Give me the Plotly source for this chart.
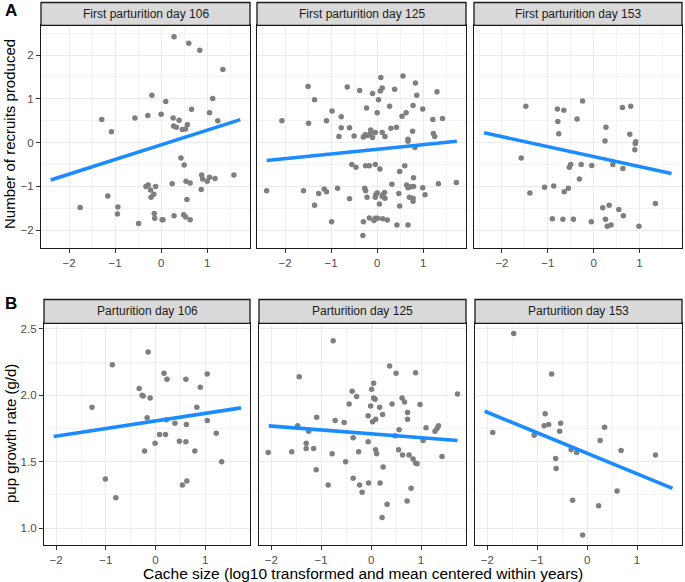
import plotly.graph_objects as go

W, H = 685, 582

# ---------------- data ----------------
strip_labels = ["First parturition day 106", "First parturition day 125", "First parturition day 153",
                "Parturition day 106", "Parturition day 125", "Parturition day 153"]

a1_x = [0.28, 0.60, 0.84, 1.34, -0.20, 0.10, 1.12, 0.66, 1.05, -1.29, -0.57, -0.29, 0.00, 0.26, 0.39, 1.23,
        0.27, 0.33, 0.46, 0.53, 0.57, -1.08, 0.43, 0.50, 0.88, 0.90, 1.00, 1.05, 1.17, 1.58, 0.54, 0.63, 0.24,
        -0.33, -0.28, -0.12, -0.23, -0.16, -0.22, 0.87, 0.56, -1.16, -1.76, -0.94, -0.95, -0.15, -0.14, 0.02,
        0.04, 0.28, 0.49, 0.53, 0.63, -0.49]
a1_y = [2.42, 2.27, 2.11, 1.67, 1.08, 0.94, 1.01, 0.76, 0.68, 0.53, 0.56, 0.62, 0.65, 0.56, 0.51, 0.50,
        0.38, 0.35, 0.30, 0.31, 0.41, 0.25, -0.35, -0.51, -0.74, -0.83, -0.88, -0.79, -0.82, -0.74, -0.88, -0.92,
        -0.94, -1.00, -0.97, -1.00, -1.08, -1.18, -1.25, -1.07, -1.30, -1.22, -1.48, -1.47, -1.63, -1.62, -1.73,
        -1.76, -1.76, -1.67, -1.65, -1.70, -1.76, -1.85]

a2_x = [0.56, 0.08, 0.83, -1.50, -0.65, -0.38, -0.10, 0.07, 0.11, 0.38, 1.30, 0.86, -1.36, 0.03, 0.78, 0.27,
        -0.23, 0.99, -0.98, 0.00, 0.63, 0.54, -0.78, -2.07, -1.49, -1.10, 1.21, 1.42, -0.78, -0.60, -0.83, -0.50,
        -0.30, -0.26, -0.21, -0.14, -0.15, -0.10, -0.04, 0.11, 0.17, 0.30, 0.42, 0.77, 1.22, 1.25, 0.67, 0.67,
        0.82, -0.55, -0.46, -0.25, -0.17, -0.04, 0.06, 0.60, 0.49, 0.79, 0.32, 0.64, 0.67, 0.79, 0.72, 0.99,
        1.33, 1.72, 1.04, -2.40, -1.60, -1.27, -1.15, -1.10, -0.86, -0.27, -0.25, -0.60, -0.22, -0.03, 0.00,
        -0.04, 0.12, 0.16, 0.17, 0.11, 0.47, 0.70, 0.78, 0.78, 0.05, 0.49, -1.36, -0.99, -0.30, -0.17, -0.07,
        -0.04, 0.01, 0.12, 0.22, 0.43, 0.67, -0.31]
a2_y = [1.52, 1.49, 1.36, 1.28, 1.27, 1.19, 1.12, 1.18, 1.25, 1.22, 1.16, 1.08, 0.98, 0.98, 0.85, 0.83,
        0.79, 0.77, 0.72, 0.68, 0.68, 0.60, 0.59, 0.50, 0.44, 0.50, 0.53, 0.55, 0.34, 0.34, 0.14, 0.15,
        0.13, 0.18, 0.16, 0.29, 0.20, 0.12, 0.23, 0.23, 0.14, 0.33, 0.35, 0.26, 0.21, 0.14, 0.08, 0.03,
        -0.11, -0.50, -0.56, -0.53, -0.53, -0.50, -0.60, -0.53, -0.66, -0.80, -0.95, -0.97, -1.03, -1.00, -1.01, -1.03,
        -0.94, -0.91, -1.19, -1.10, -1.10, -1.16, -1.06, -1.12, -1.04, -1.04, -1.10, -1.28, -1.25, -1.19, -1.15,
        -1.25, -1.19, -1.14, -1.27, -1.23, -1.16, -1.25, -1.27, -1.34, -1.40, -1.45, -1.43, -1.81, -1.81, -1.72, -1.78,
        -1.73, -1.73, -1.74, -1.77, -1.88, -1.88, -2.12]

a3_x = [-1.48, -0.79, -0.65, -0.24, 0.63, 0.81, -0.78, -0.36, 0.27, -0.76, 0.79, 0.25, 0.92, 0.91, 0.90,
        -1.58, -0.50, -0.53, -0.27, -0.04, 0.42, 0.64, -0.31, -1.39, -1.07, -0.87, -0.64, -0.55, 1.35, 0.20,
        0.34, 0.55, 0.65, -0.90, -0.67, -0.44, -0.05, 0.26, 0.30, 0.38, 0.99]
a3_y = [0.83, 0.77, 0.74, 0.95, 0.80, 0.83, 0.48, 0.54, 0.35, 0.20, 0.19, 0.04, 0.02, -0.02, -0.16,
        -0.35, -0.50, -0.56, -0.50, -0.52, -0.50, -0.59, -0.83, -1.15, -1.02, -0.99, -1.12, -1.04, -1.39, -1.49,
        -1.43, -1.53, -1.67, -1.74, -1.75, -1.75, -1.81, -1.75, -1.91, -1.88, -1.91]

b1_x = [-0.15, -0.87, 0.17, 0.23, 0.61, 1.04, -0.33, 0.90, -0.27, -0.25, -0.11, -1.28, 0.83, -0.17, 0.22,
        1.04, 0.39, 0.62, 0.08, 0.20, 1.22, -0.01, 0.48, 0.61, -0.22, 0.79, 1.33, -1.01, 0.63, 0.54, -0.80]
b1_y = [2.325, 2.23, 2.165, 2.12, 2.12, 2.16, 2.05, 2.06, 2.00, 1.995, 1.98, 1.91, 1.91, 1.83, 1.815,
        1.81, 1.79, 1.78, 1.705, 1.705, 1.715, 1.64, 1.655, 1.65, 1.58, 1.58, 1.50, 1.37, 1.355, 1.325, 1.23]

b2_x = [-0.76, -1.44, 0.37, 0.50, 0.89, 0.05, 0.01, -0.38, -0.29, 0.05, 0.08, 0.62, 0.67, -0.44, -0.01,
        0.17, 0.42, 0.98, 0.73, 0.23, -0.06, -1.09, -0.72, -0.54, 0.03, 0.09, 0.73, -1.47, 1.10, 1.35, 1.32,
        1.28, -1.25, 0.56, 0.48, -0.36, 1.04, -0.06, -1.30, -1.30, -1.15, 0.09, 0.11, 0.55, 0.63, 0.76, 0.84,
        0.89, 0.92, 1.42, -2.06, -1.59, -0.78, -0.25, -0.51, -1.10, 0.24, -0.36, -0.86, -0.23, -0.05, 0.18,
        -0.18, 0.80, 0.72, 0.32, 0.22, 1.73]
b2_y = [2.41, 2.14, 2.22, 2.165, 2.17, 2.09, 2.045, 2.03, 1.99, 1.98, 1.97, 1.98, 1.95, 1.935, 1.92,
        1.91, 1.935, 1.93, 1.87, 1.855, 1.845, 1.835, 1.81, 1.795, 1.80, 1.82, 1.82, 1.77, 1.755, 1.77, 1.75,
        1.73, 1.73, 1.74, 1.695, 1.68, 1.66, 1.65, 1.64, 1.60, 1.60, 1.59, 1.56, 1.59, 1.55, 1.55, 1.52,
        1.49, 1.485, 1.54, 1.57, 1.575, 1.56, 1.575, 1.50, 1.44, 1.46, 1.375, 1.325, 1.325, 1.34, 1.34,
        1.27, 1.30, 1.205, 1.18, 1.08, 2.01]

b3_x = [-1.47, -0.71, -0.84, -0.86, -0.77, -0.53, -0.55, -1.89, -1.06, 0.35, 0.26, -0.32, -0.21, 0.68,
        1.37, -0.63, -0.62, 0.60, -0.29, 0.23, -0.09]
b3_y = [2.465, 2.16, 1.86, 1.77, 1.78, 1.79, 1.73, 1.72, 1.70, 1.76, 1.66, 1.59, 1.57, 1.585,
        1.55, 1.525, 1.45, 1.28, 1.21, 1.17, 0.95]

# model prediction lines (start / end)
a1_line_x, a1_line_y = [-2.40, 1.72], [-0.855, 0.525]
a2_line_x, a2_line_y = [-2.40, 1.73], [-0.41, 0.03]
a3_line_x, a3_line_y = [-2.39, 1.70], [0.225, -0.705]
b1_line_x, b1_line_y = [-2.05, 1.72], [1.69, 1.905]
b2_line_x, b2_line_y = [-2.05, 1.73], [1.77, 1.66]
b3_line_x, b3_line_y = [-2.05, 1.71], [1.88, 1.30]

x_ticks = [-2, -1, 0, 1]
ya_ticks = [-2, -1, 0, 1, 2]
yb_ticks = [1.0, 1.5, 2.0, 2.5]

points = [(a1_x, a1_y), (a2_x, a2_y), (a3_x, a3_y), (b1_x, b1_y), (b2_x, b2_y), (b3_x, b3_y)]
lines = [(a1_line_x, a1_line_y), (a2_line_x, a2_line_y), (a3_line_x, a3_line_y),
         (b1_line_x, b1_line_y), (b2_line_x, b2_line_y), (b3_line_x, b3_line_y)]

# ---------------- layout geometry (pixels) ----------------
px_x = [(41, 250), (257, 466), (474, 682), (44, 250), (259, 466), (475, 682)]
row_panel_y = [(25.3, 247.7), (323.3, 545)]
row_strip_y = [(2.5, 25.3), (299.5, 323.3)]

def fx(p):
    return p / W

def fy(p):
    return 1 - p / H

FONT = "Liberation Sans, Arial, sans-serif"
GRID = "#EBEBEB"
fig = go.Figure()

for i in range(6):
    n = i + 1
    sx = "" if n == 1 else str(n)
    xs, ys = points[i]
    lx, ly = lines[i]
    fig.add_trace(go.Scatter(x=xs, y=ys, mode="markers", xaxis="x" + sx, yaxis="y" + sx,
                             marker=dict(color="#7F7F7F", size=5.5), showlegend=False, hoverinfo="skip"))
    fig.add_trace(go.Scatter(x=lx, y=ly, mode="lines", xaxis="x" + sx, yaxis="y" + sx,
                             line=dict(color="#1A8CFF", width=3.6), showlegend=False, hoverinfo="skip"))

layout = dict(width=W, height=H, margin=dict(l=0, r=0, t=0, b=0),
              paper_bgcolor="white", plot_bgcolor="white", font=dict(family=FONT),
              shapes=[], annotations=[])

for i in range(6):
    n = i + 1
    sx = "" if n == 1 else str(n)
    row = 0 if i < 3 else 1
    x0, x1 = px_x[i]
    py0, py1 = row_panel_y[row]
    if row == 0:
        xr = [-2.61, 1.93]
        yr = [-2.40, 2.68]
        yt = ya_ticks
        ymin = 0.5
        yfmt = "d"
    else:
        xr = [-2.245, 1.9]
        yr = [0.874, 2.541]
        yt = yb_ticks
        ymin = 0.25
        yfmt = ".1f"
    first = (i % 3 == 0)
    layout["xaxis" + sx] = dict(
        domain=[fx(x0), fx(x1)], anchor="y" + sx, range=xr, tickvals=x_ticks,
        showgrid=True, gridcolor=GRID, gridwidth=1, zeroline=False,
        showline=True, linecolor="#1A1A1A", linewidth=1.3, mirror=True,
        ticks="outside", ticklen=4, tickcolor="#333333", tickwidth=1,
        tickfont=dict(size=11.5, color="#4D4D4D", family=FONT),
        minor=dict(dtick=0.5, tick0=0, showgrid=True, gridcolor="#F3F3F3", gridwidth=0.6, ticks=""),
        fixedrange=True)
    layout["yaxis" + sx] = dict(
        domain=[fy(py1), fy(py0)], anchor="x" + sx, range=yr, tickvals=yt, tickformat=yfmt,
        showgrid=True, gridcolor=GRID, gridwidth=1, zeroline=False,
        showline=True, linecolor="#1A1A1A", linewidth=1.3, mirror=True,
        ticks="outside" if first else "", ticklen=4, tickcolor="#333333", tickwidth=1,
        showticklabels=first,
        tickfont=dict(size=11.5, color="#4D4D4D", family=FONT),
        minor=dict(dtick=ymin, tick0=0, showgrid=True, gridcolor="#F3F3F3", gridwidth=0.6, ticks=""),
        fixedrange=True)
    sy0, sy1 = row_strip_y[row]
    layout["shapes"].append(dict(type="rect", xref="paper", yref="paper",
                                 x0=fx(x0), x1=fx(x1), y0=fy(sy1), y1=fy(sy0),
                                 fillcolor="#D9D9D9", line=dict(color="#1A1A1A", width=1.3), layer="above"))
    layout["annotations"].append(dict(text=strip_labels[i], xref="paper", yref="paper",
                                      x=fx((x0 + x1) / 2), y=fy((sy0 + sy1) / 2),
                                      xanchor="center", yanchor="middle", showarrow=False,
                                      font=dict(size=12, color="#1A1A1A", family=FONT)))

layout["annotations"] += [
    dict(text="Number of recruits produced", xref="paper", yref="paper", x=fx(10), y=fy(134),
         textangle=-90, showarrow=False, xanchor="center", yanchor="middle",
         font=dict(size=15, color="black", family=FONT)),
    dict(text="pup growth rate (g/d)", xref="paper", yref="paper", x=fx(10), y=fy(434),
         textangle=-90, showarrow=False, xanchor="center", yanchor="middle",
         font=dict(size=15, color="black", family=FONT)),
    dict(text="Cache size (log10 transformed and mean centered within years)", xref="paper", yref="paper",
         x=fx(363), y=fy(573), showarrow=False, xanchor="center", yanchor="middle",
         font=dict(size=15.5, color="black", family=FONT)),
    dict(text="<b>A</b>", xref="paper", yref="paper", x=fx(3), y=fy(10), showarrow=False,
         xanchor="left", yanchor="middle", font=dict(size=17, color="black", family=FONT)),
    dict(text="<b>B</b>", xref="paper", yref="paper", x=fx(3), y=fy(303), showarrow=False,
         xanchor="left", yanchor="middle", font=dict(size=17, color="black", family=FONT)),
]

fig.update_layout(**layout)
fig.write_html("out.html", config={"displayModeBar": False},
               post_script="document.body.style.margin='0px';document.body.style.overflow='hidden';")
